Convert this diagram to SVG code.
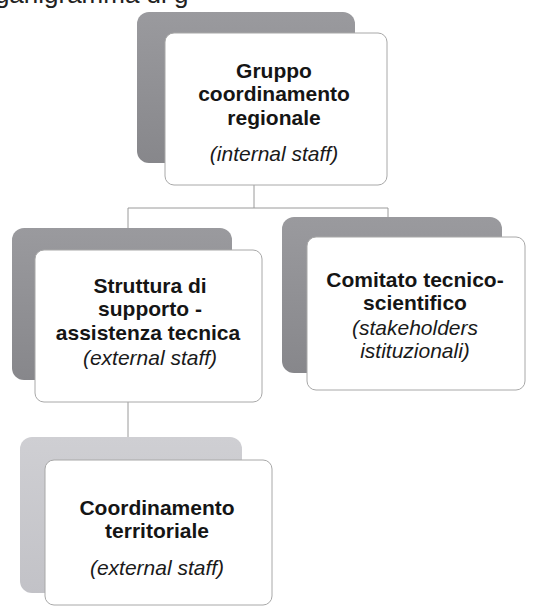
<svg xmlns="http://www.w3.org/2000/svg" width="535" height="607" viewBox="0 0 535 607">
<defs>
<linearGradient id="gback" x1="0" y1="0" x2="0" y2="1">
<stop offset="0" stop-color="#9a9a9e"/>
<stop offset="1" stop-color="#87878b"/>
</linearGradient>
<linearGradient id="gback2" x1="0" y1="0" x2="0" y2="1">
<stop offset="0" stop-color="#cfcfd3"/>
<stop offset="1" stop-color="#c2c2c7"/>
</linearGradient>
</defs>
<style>
.back{fill:url(#gback);}
.back2{fill:url(#gback2);}
.front{fill:#ffffff;stroke:#a8a8a8;stroke-width:1;}
.t{font-family:"Liberation Sans",Arial,sans-serif;font-size:21px;font-weight:bold;fill:#151515;text-anchor:middle;}
.i{font-family:"Liberation Sans",Arial,sans-serif;font-size:21px;font-style:italic;fill:#1a1a1a;text-anchor:middle;}
.conn{stroke:#9a9a9a;stroke-width:1;fill:none;}
.hdr{font-family:"Liberation Sans",Arial,sans-serif;font-size:26px;fill:#222;}
</style>
<rect width="535" height="607" fill="#ffffff"/>
<text class="hdr" x="-34" y="3">Organigramma di g</text>
<g id="connectors">
<path class="conn" d="M254,185 V208 M128,208 H388 M128,208 V230 M388,208 V220 M128,402 V440"/>
</g>
<g id="node-gruppo">
<rect class="back" x="137" y="12" width="218" height="151" rx="12"/>
<rect class="front" x="165" y="33" width="222" height="152" rx="9"/>
<text class="t" x="274" y="78">Gruppo</text>
<text class="t" x="274" y="101">coordinamento</text>
<text class="t" x="274" y="125">regionale</text>
<text class="i" x="274" y="161">(internal staff)</text>
</g>
<g id="node-struttura">
<rect class="back" x="12" y="228" width="220" height="152" rx="12"/>
<rect class="front" x="35" y="250" width="227" height="152" rx="9"/>
<text class="t" x="150" y="293">Struttura di</text>
<text class="t" x="150" y="316">supporto -</text>
<text class="t" x="148" y="340">assistenza tecnica</text>
<text class="i" x="150" y="365">(external staff)</text>
</g>
<g id="node-comitato">
<rect class="back" x="282" y="217" width="220" height="156" rx="12"/>
<rect class="front" x="307" y="237" width="218" height="153" rx="9"/>
<text class="t" x="415" y="287">Comitato tecnico-</text>
<text class="t" x="415" y="310">scientifico</text>
<text class="i" x="415" y="335">(stakeholders</text>
<text class="i" x="415" y="358">istituzionali)</text>
</g>
<g id="node-coordinamento">
<rect class="back2" x="20" y="437" width="222" height="156" rx="12"/>
<rect class="front" x="45" y="460" width="227" height="145" rx="9"/>
<text class="t" x="157" y="515">Coordinamento</text>
<text class="t" x="157" y="538">territoriale</text>
<text class="i" x="157" y="575">(external staff)</text>
</g>
</svg>
